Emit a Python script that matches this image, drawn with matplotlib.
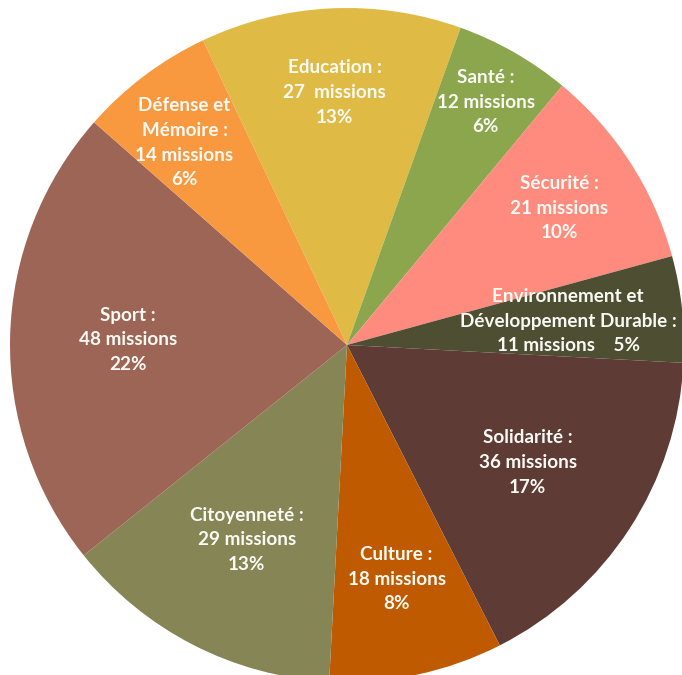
import numpy as np
import matplotlib
matplotlib.use("Agg")
import matplotlib.pyplot as plt

categories = ["Education", "Santé", "Sécurité", "Environnement et\nDéveloppement Durable",
              "Solidarité", "Culture", "Citoyenneté", "Sport", "Défense et\nMémoire"]
missions = [27, 12, 21, 11, 36, 18, 29, 48, 14]
percent_labels = ["13%", "6%", "10%", "5%", "17%", "8%", "13%", "22%", "6%"]

colors = ["#DFBB45", "#8BA64D", "#FE8B7E", "#4E4E32", "#5E3B34",
          "#C05A00", "#868555", "#9D6556", "#F89940"]
label_radius = [0.75, 0.83, 0.75, 0.66, 0.64, 0.71, 0.65, 0.65, 0.77]
label_angle_shift = [0, 0, 0, 0, 0, 0, 0, 0, 1.8]

W, H = 682, 675
cx, cy, R = 347, 345, 337

fig = plt.figure(figsize=(W / 100, H / 100), dpi=100)
ax = fig.add_axes([0, 0, 1, 1])

wedges, _ = ax.pie(missions, colors=colors, startangle=115.3, counterclock=False,
                   radius=R, center=(0, 0), frame=True,
                   wedgeprops=dict(linewidth=0))
ax.set_xlim(-cx, W - cx)
ax.set_ylim(-(H - cy), cy)
ax.set_aspect("equal")
ax.axis("off")

for w, cat, n, p, rf, da in zip(wedges, categories, missions, percent_labels,
                                label_radius, label_angle_shift):
    mid = np.deg2rad((w.theta1 + w.theta2) / 2 + da)
    x = R * rf * np.cos(mid)
    y = R * rf * np.sin(mid)
    if cat.startswith("Environnement"):
        txt = f"{cat} :\n{n} missions    {p}"
    elif cat == "Education":
        txt = f"{cat} :\n{n}  missions\n{p}"
    else:
        txt = f"{cat} :\n{n} missions\n{p}"
    ax.text(x, y, txt, ha="center", va="center", color="#FAFAF5",
            fontsize=13.6, fontweight="bold", family=["Lato", "DejaVu Sans"],
            linespacing=1.55, multialignment="center")

fig.savefig("out.png", dpi=100)
